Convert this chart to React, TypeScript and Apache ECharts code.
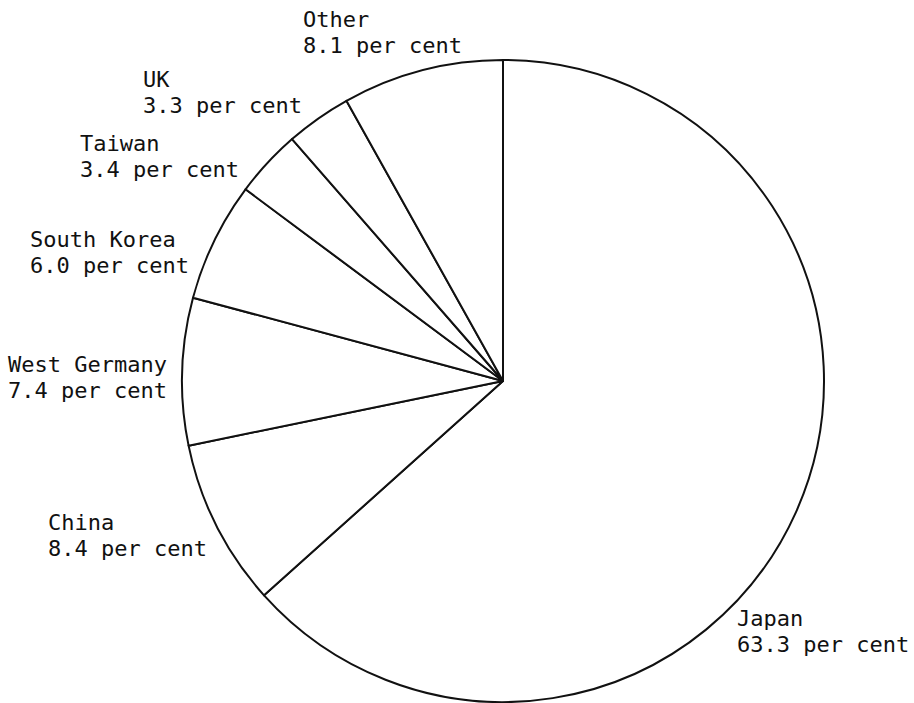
import React, { useEffect, useRef } from "react";
import * as echarts from "echarts";

const categories = ["Japan", "China", "West Germany", "South Korea", "Taiwan", "UK", "Other"];
const shares = [63.3, 8.4, 7.4, 6.0, 3.4, 3.3, 8.1];
const unitText = "per cent";

// label placement (layout only): left x, top y of each label block
const labelLeft = [737, 48, 8, 30, 80, 143, 303];
const labelTop = [605, 509, 351, 226, 130, 66, 6];

export default function App() {
  const ref = useRef<HTMLDivElement>(null);
  useEffect(() => {
    if (!ref.current) return;
    document.body.style.margin = "0";
    const chart = echarts.init(ref.current, undefined, { renderer: "svg" });
    const data = categories.map((name, i) => ({ name, value: shares[i] }));
    chart.setOption({
      animation: false,
      backgroundColor: "#ffffff",
      series: [
        {
          type: "pie",
          center: [503, 381],
          radius: 321,
          startAngle: 90,
          clockwise: true,
          avoidLabelOverlap: false,
          silent: true,
          emphasis: { disabled: true },
          itemStyle: { color: "#ffffff", borderColor: "#111111", borderWidth: 2 },
          label: {
            show: true,
            position: "outside",
            color: "#111111",
            fontFamily: "DejaVu Sans Mono",
            fontSize: 22,
            lineHeight: 26,
            align: "left",
            formatter: (p: any) => `${p.name}\n${Number(p.value).toFixed(1)} ${unitText}`,
          },
          labelLine: { show: false },
          labelLayout: (params: any) => ({
            x: labelLeft[params.dataIndex],
            y: labelTop[params.dataIndex],
            align: "left",
            verticalAlign: "top",
          }),
          data,
        },
      ],
    });
    return () => chart.dispose();
  }, []);
  return <div ref={ref} style={{ position: "fixed", left: 0, top: 0, width: 914, height: 703 }} />;
}
